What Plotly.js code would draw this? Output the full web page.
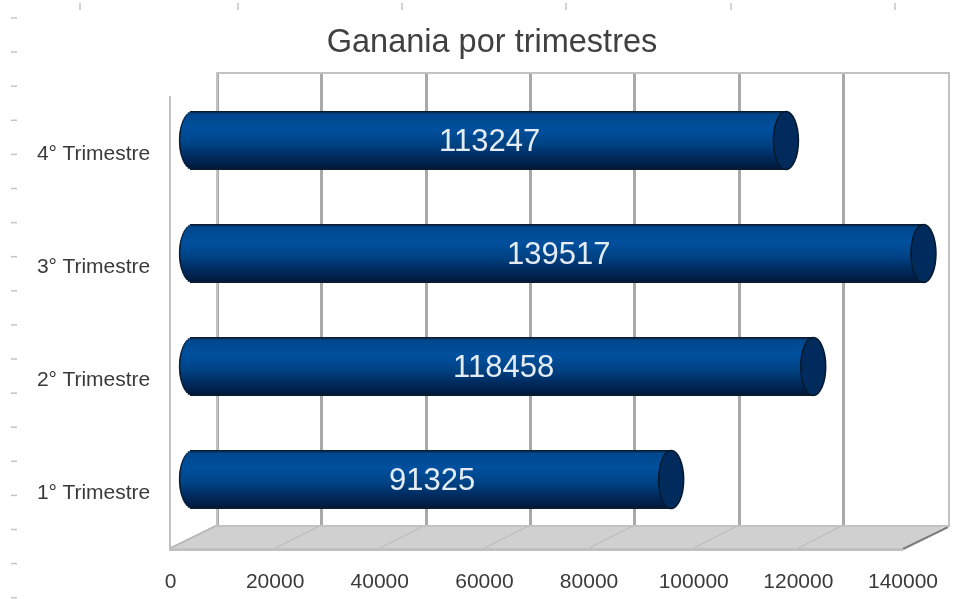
<!DOCTYPE html>
<html>
<head>
<meta charset="utf-8">
<script src="https://cdn.plot.ly/plotly-3.0.1.min.js"></script>
<style>
html,body{margin:0;padding:0;background:#fff;overflow:hidden}
#chart{width:961px;height:599px;filter:blur(0.55px)}
</style>
</head>
<body>
<div id="chart"></div>
<script>
var categories = ["1° Trimestre", "2° Trimestre", "3° Trimestre", "4° Trimestre"];
var ganancia = [91325, 118458, 139517, 113247];
var tickValues = [0, 20000, 40000, 60000, 80000, 100000, 120000, 140000];
var chartTitle = "Ganania por trimestres";

var W = 961, H = 599;
var AXIS_MAX = 140000;
var front = {l: 170.5, r: 903, t: 96, b: 548};
var back  = {l: 217.5, r: 948, t: 74, b: 525};
var barPlane = {l: 193, r: 926, t: 84, b: 536};
var pad = 5000;
var k = (barPlane.r - barPlane.l) / AXIS_MAX;

function px(v){return v / W;}
function py(v){return 1 - v / H;}
function dx(o){return [px(o.l), px(o.r)];}
function dy(o){return [py(o.b), py(o.t)];}

var traces = [];
// hidden traces which bring up the front and back planes
traces.push({type:'scatter', mode:'markers', x:ganancia, y:categories, xaxis:'x', yaxis:'y',
  marker:{opacity:0}, hoverinfo:'skip', showlegend:false});
traces.push({type:'scatter', mode:'markers', x:ganancia, y:categories, xaxis:'x2', yaxis:'y2',
  marker:{opacity:0}, hoverinfo:'skip', showlegend:false});

// cylinder bodies, built from thin gradient strips
var BAR_W = 0.515, CAP_PX = 12.5, N = 40;
function lerp(a,b,t){return Math.round(a+(b-a)*t);}
var stops = [[0,[10,35,70]],[0.05,[0,70,140]],[0.3,[0,80,158]],[0.55,[0,68,135]],[0.8,[0,42,92]],[0.95,[0,30,68]],[1,[8,20,40]]];
function shade(t){
  for(var i=1;i<stops.length;i++){
    if(t<=stops[i][0]){
      var a=stops[i-1],b=stops[i],u=(t-a[0])/(b[0]-a[0]);
      return 'rgb('+lerp(a[1][0],b[1][0],u)+','+lerp(a[1][1],b[1][1],u)+','+lerp(a[1][2],b[1][2],u)+')';
    }
  }
}
function strip(t, capPx, color, thick){
  var s = 2*t-1;
  var b = (capPx/k)*Math.sqrt(Math.max(0,1-s*s));
  var w = BAR_W*thick/N;
  traces.push({type:'bar', orientation:'h', y:categories, x:ganancia.map(function(v){return v+b;}),
    base:categories.map(function(){return -b;}), width:w, offset:-s*BAR_W/2 - w/2,
    marker:{color:color, line:{width:0}}, xaxis:'x3', yaxis:'y3', hoverinfo:'skip', showlegend:false});
}
var i;
for(i=0;i<N;i++){ strip((i+0.5)/N, CAP_PX+1.6, '#0c1c30', 1.5); }
for(i=1;i<N-1;i++){ strip((i+0.5)/N, CAP_PX, shade((i+0.5)/N), 1.5); }

// decorations
var shapes = [];
function line(x0,y0,x1,y1,color,width,layer){
  shapes.push({type:'line', xref:'paper', yref:'paper', x0:px(x0), y0:py(y0), x1:px(x1), y1:py(y1),
    line:{color:color,width:width}, layer:layer||'below'});
}
// floor
shapes.push({type:'path', xref:'paper', yref:'paper', layer:'below',
  path:'M'+px(front.l)+','+py(front.b)+' L'+px(back.l)+','+py(back.b)+' L'+px(back.r)+','+py(back.b)+' L'+px(front.r)+','+py(front.b)+' Z',
  fillcolor:'#d0d0d0', line:{width:0}});
tickValues.forEach(function(v,idx){
  if(idx===0 || idx===tickValues.length-1) return;
  var f=v/AXIS_MAX;
  line(front.l+f*(front.r-front.l), front.b, back.l+f*(back.r-back.l), back.b, '#b8b8b8', 1);
});
line(front.l, front.b, back.l, back.b, '#b4b4b4', 1.5);
line(front.r, front.b+1, back.r, back.b+2, '#7d7d7d', 2.5);
line(back.l, back.t, back.l, back.b, '#a9a9a9', 3);
// editor rulers behind the chart
var rt = [80, 238, 402, 566, 731, 895];
rt.forEach(function(x){ line(x,3,x,10,'#c4c4c4',1.5); });
for(i=0;i<18;i++){ var y=18+i*34.1; line(11,y,17,y,'#c4c4c4',1.5); }
// cylinder end caps
ganancia.forEach(function(v,idx){
  shapes.push({type:'circle', xref:'x3', yref:'y3', layer:'above',
    x0:v-CAP_PX/k, x1:v+CAP_PX/k, y0:idx-BAR_W/2, y1:idx+BAR_W/2,
    fillcolor:'#002b5c', line:{color:'#06182c',width:1.5}});
});

var annotations = ganancia.map(function(v,idx){
  return {xref:'x3', yref:'y3', x:v/2, y:categories[idx], text:String(v), showarrow:false,
    font:{family:'"Liberation Sans", Arial, sans-serif', size:31, color:'#e4ecf4'}};
});

var layout = {
  width:W, height:H, margin:{l:0,r:0,t:0,b:0}, autosize:false,
  paper_bgcolor:'#fff', plot_bgcolor:'rgba(0,0,0,0)', barmode:'overlay', showlegend:false,
  title:{text:chartTitle, x:px(492), xanchor:'center', y:py(41), yanchor:'middle',
    font:{family:'"Liberation Sans", Arial, sans-serif', size:32.5, color:'#404040'}},
  font:{family:'"Liberation Sans", Arial, sans-serif'},
  xaxis:{domain:dx(front), range:[0,AXIS_MAX], anchor:'y', tickvals:tickValues, ticktext:tickValues.map(String),
    ticks:'outside', ticklen:12, tickcolor:'rgba(0,0,0,0)', showgrid:false, zeroline:false,
    showline:true, linecolor:'#c0c0c0', linewidth:2.5, tickfont:{size:21,color:'#3a3a3a'}},
  yaxis:{domain:dy(front), type:'category', categoryorder:'array', categoryarray:categories, range:[-0.5,3.5], anchor:'x',
    ticks:'outside', ticklen:14, tickcolor:'rgba(0,0,0,0)', showgrid:false, zeroline:false,
    showline:true, linecolor:'#c0c0c0', linewidth:2, tickfont:{size:21,color:'#3a3a3a'}},
  xaxis2:{domain:dx(back), range:[0,AXIS_MAX], anchor:'y2', tickvals:tickValues, showticklabels:false, ticks:'',
    showgrid:true, gridcolor:'#a9a9a9', gridwidth:3, zeroline:false, showline:true, mirror:true, linecolor:'#c2c2c2', linewidth:2},
  yaxis2:{domain:dy(back), type:'category', categoryorder:'array', categoryarray:categories, range:[-0.5,3.5], anchor:'x2',
    showticklabels:false, ticks:'', showgrid:false, zeroline:false, showline:true, mirror:true, linecolor:'#c2c2c2', linewidth:2},
  xaxis3:{domain:[px(barPlane.l-pad*k), px(barPlane.r+pad*k)], range:[-pad,AXIS_MAX+pad], anchor:'y3', visible:false, fixedrange:true},
  yaxis3:{domain:dy(barPlane), type:'category', categoryorder:'array', categoryarray:categories, range:[-0.5,3.5], anchor:'x3', visible:false, fixedrange:true},
  shapes:shapes, annotations:annotations
};
Plotly.newPlot('chart', traces, layout, {displayModeBar:false, staticPlot:true});
</script>
</body>
</html>
